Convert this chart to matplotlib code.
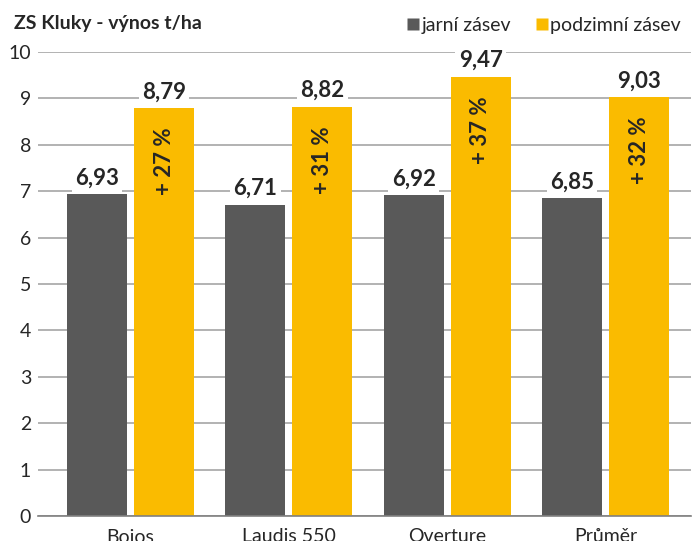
import matplotlib.pyplot as plt
from matplotlib.lines import Line2D
import numpy as np

plt.rcParams['font.family'] = ['Lato', 'DejaVu Sans']

# data
categories = ['Bojos', 'Laudis 550', 'Overture', 'Průměr']
jarni = [6.93, 6.71, 6.92, 6.85]
podzimni = [8.79, 8.82, 9.47, 9.03]
gain_labels = ['+ 27 %', '+ 31 %', '+ 37 %', '+ 32 %']
series_names = ['jarní zásev', 'podzimní zásev']
y_ticks = list(range(0, 11))

DARK = '#595959'
YELLOW = '#FABB00'
TXT = '#262626'

fig = plt.figure(figsize=(6.93, 5.41), dpi=100)
ax = fig.add_axes([38 / 693, 25 / 541, 653 / 693, 464 / 541])

x = np.arange(len(categories))
w = 0.379
off = 0.212

b1 = ax.bar(x - off, jarni, w, color=DARK, zorder=3)
b2 = ax.bar(x + off, podzimni, w, color=YELLOW, zorder=3)

# value labels above bars
for bars, vals in [(b1, jarni), (b2, podzimni)]:
    for rect, v in zip(bars, vals):
        ax.annotate(f'{v:.2f}'.replace('.', ','),
                    (rect.get_x() + rect.get_width() / 2, v),
                    xytext=(0, 4), textcoords='offset points',
                    ha='center', va='bottom', fontsize=16, fontweight='bold',
                    color=TXT, zorder=4,
                    bbox=dict(boxstyle='square,pad=0.15', fc='white', ec='none'))

# percentage gain inside the yellow bars
for rect, v, lab in zip(b2, podzimni, gain_labels):
    ax.annotate(lab, (rect.get_x() + rect.get_width() / 2, v),
                xytext=(0, -14), textcoords='offset points',
                ha='center', va='top', rotation=90, fontsize=16,
                fontweight='bold', color=TXT, zorder=4)

ax.set_ylim(0, 10)
ax.set_xlim(-0.584, 3.54)
ax.set_yticks(y_ticks)
ax.set_xticks(x)
ax.set_xticklabels(categories)
ax.tick_params(axis='both', length=0, labelsize=14, colors=TXT)
ax.tick_params(axis='x', pad=9)
ax.tick_params(axis='y', pad=5)
ax.grid(axis='y', color='#A6A6A6', linewidth=1.2, zorder=0)
for s in ['top', 'right', 'left']:
    ax.spines[s].set_visible(False)
ax.spines['bottom'].set_color('#808080')
ax.spines['bottom'].set_linewidth(1.2)
ax.spines['bottom'].set_zorder(3)

fig.text(14 / 693, 1 - 23 / 541, 'ZS Kluky - výnos t/ha', fontsize=14,
         fontweight='bold', color=TXT, ha='left', va='center')

handles = [Line2D([], [], marker='s', linestyle='none', markersize=9,
                  markerfacecolor=c, markeredgecolor='none')
           for c in (DARK, YELLOW)]
fig.legend(handles, series_names, loc='center right', ncol=2,
           bbox_to_anchor=(0.997, 1 - 25 / 541), frameon=False, fontsize=14,
           handletextpad=0.1, columnspacing=1.2, handlelength=0.7,
           labelcolor=TXT, borderpad=0)

fig.savefig('out.png', dpi=100)
